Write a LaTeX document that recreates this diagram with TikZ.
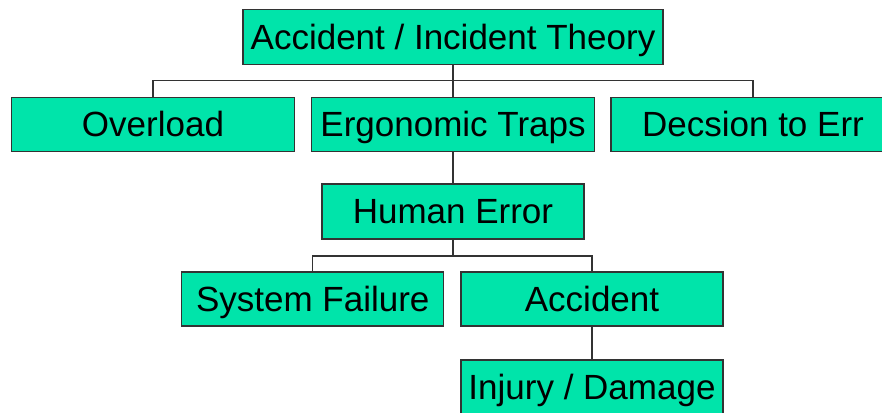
\documentclass[tikz,border=0pt]{standalone}
\usepackage{fontspec}
\setmainfont{Liberation Sans}
\definecolor{boxfill}{HTML}{00E4AA}
\definecolor{boxline}{HTML}{333333}
\begin{document}
\begin{tikzpicture}[x=1pt,y=-1pt,
  box/.style={draw=boxline,line width=1.2pt,fill=boxfill,inner sep=0pt,
    text height=24pt,text depth=0pt,
    font=\fontsize{35}{35}\selectfont,text=black},
  conn/.style={draw=boxline,line width=1.2pt}]
\useasboundingbox (0,0) rectangle (882,412);
\fill[white] (0,0) rectangle (882,412);
\node[box,minimum width=420,minimum height=54.5] (top) at (453,37) {Accident / Incident Theory};
\node[box,minimum width=283,minimum height=54] (over) at (153,124.5) {Overload};
\node[box,minimum width=283,minimum height=54] (erg) at (453,124.5) {Ergonomic Traps};
\node[box,minimum width=284,minimum height=54] (dec) at (753,124.5) {Decsion to Err};
\node[box,minimum width=262,minimum height=55] (hum) at (453,211.5) {Human Error};
\node[box,minimum width=262,minimum height=54] (sys) at (312.75,299) {System Failure};
\node[box,minimum width=262,minimum height=54] (acc) at (592,299) {Accident};
\node[box,minimum width=262,minimum height=54] (inj) at (592,387) {Injury / Damage};
\coordinate (j1) at (453,80.5);
\coordinate (j2) at (453,256);
\draw[conn] (top.south) -- (erg.north);
\draw[conn] (over.north) |- (j1) -| (dec.north);
\draw[conn] (erg.south) -- (hum.north);
\draw[conn] (sys.north) |- (j2) -| (acc.north);
\draw[conn] (hum.south) -- (j2);
\draw[conn] (acc.south) -- (inj.north);
\end{tikzpicture}
\end{document}
